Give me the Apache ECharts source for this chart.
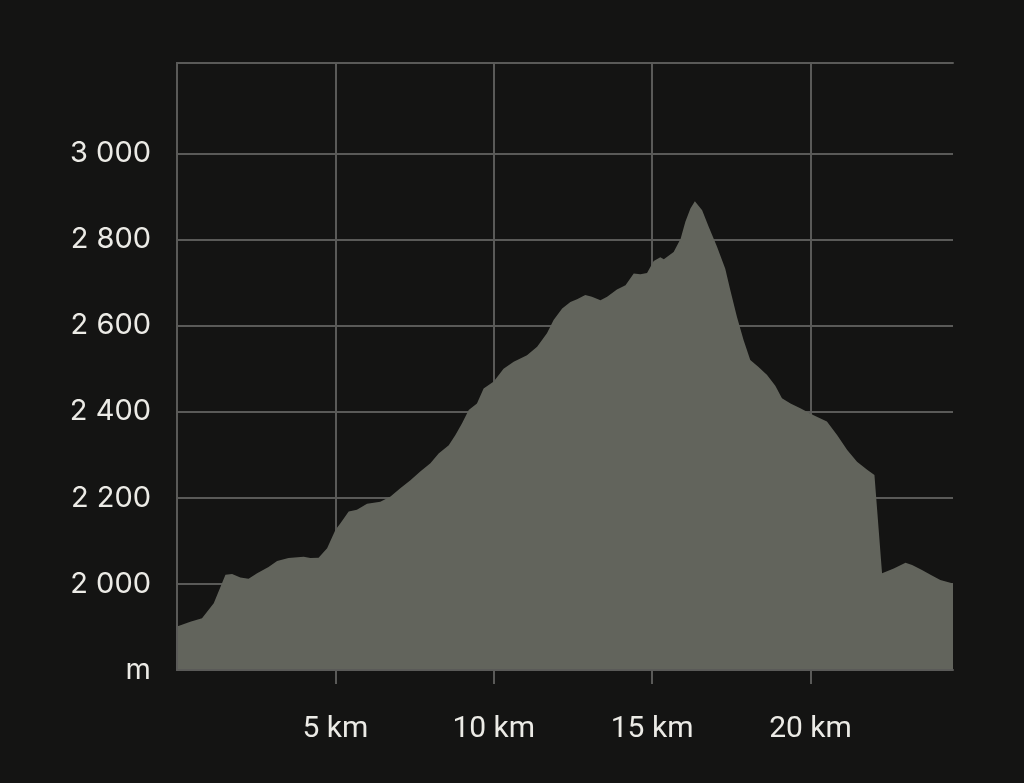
<!DOCTYPE html>
<html>
<head>
<meta charset="utf-8">
<script src="https://cdn.jsdelivr.net/npm/echarts@6/dist/echarts.min.js"></script>
<style>
html,body{margin:0;padding:0;background:#141413;}
#chart{width:1024px;height:783px;}
</style>
</head>
<body>
<div id="chart"></div>
<script>
// distance along route (km)
const distanceKm = [0,0.42,0.79,1.16,1.53,1.74,2.0,2.26,2.53,2.89,3.16,3.52,4.0,4.21,4.47,4.74,5.0,5.16,5.42,5.68,6.0,6.42,6.74,7.05,7.37,7.68,8.0,8.26,8.58,8.79,9.0,9.21,9.47,9.68,10.0,10.31,10.63,11.05,11.37,11.68,11.89,12.16,12.42,12.63,12.89,13.1,13.37,13.58,13.89,14.16,14.42,14.63,14.84,15.05,15.26,15.37,15.68,15.9,16.05,16.21,16.35,16.58,16.79,17.05,17.31,17.47,17.68,17.89,18.1,18.36,18.63,18.89,19.1,19.37,19.68,20.1,20.52,20.84,21.16,21.47,21.79,22.02,22.26,22.63,23.0,23.21,23.52,23.79,24.1,24.5];
// elevation (m)
const elevationM = [1901,1912,1920,1955,2021,2023,2015,2012,2025,2039,2053,2060,2063,2060,2061,2083,2125,2141,2168,2172,2186,2191,2203,2222,2241,2261,2280,2303,2322,2346,2373,2404,2419,2454,2470,2500,2516,2531,2551,2582,2613,2640,2655,2661,2671,2667,2659,2667,2684,2694,2721,2719,2722,2750,2759,2754,2771,2802,2841,2872,2889,2868,2829,2783,2732,2682,2620,2566,2520,2504,2485,2460,2431,2419,2408,2392,2377,2346,2311,2284,2265,2253,2025,2036,2049,2044,2032,2021,2009,2001];
const xTicks = [5,10,15,20];
const yTicks = [1800,2000,2200,2400,2600,2800,3000];
const xMin = 0, xMax = 24.5;
const yMin = 1800, yMax = 3210;

const lineCol = '#5a5a58';
const textCol = '#ecebe6';

const chart = echarts.init(document.getElementById('chart'));
const borderAxis = {show:true, lineStyle:{color:lineCol, width:2}};
chart.setOption({
  backgroundColor:'#141413',
  animation:false,
  grid:{left:177, right:71, top:63, bottom:113},
  xAxis:[{
    type:'value', min:xMin, max:xMax, position:'bottom',
    axisLine:{show:false},
    axisTick:{show:true, customValues:xTicks, length:14, lineStyle:{color:lineCol, width:2}},
    splitLine:{show:true, lineStyle:{color:lineCol, width:2}},
    axisLabel:{customValues:xTicks, margin:44, color:textCol, fontSize:30,
      fontFamily:'Roboto, sans-serif',
      formatter:v=>v+' km'}
  },{
    type:'value', min:xMin, max:xMax, position:'bottom', z:10,
    axisLine:borderAxis, axisTick:{show:false}, axisLabel:{show:false}, splitLine:{show:false}
  },{
    type:'value', min:xMin, max:xMax, position:'top', z:10,
    axisLine:borderAxis, axisTick:{show:false}, axisLabel:{show:false}, splitLine:{show:false}
  }],
  yAxis:[{
    type:'value', min:yMin, max:yMax, position:'left',
    axisLine:{show:false},
    axisTick:{show:false, customValues:yTicks},
    splitLine:{show:true, lineStyle:{color:lineCol, width:2}},
    axisLabel:{customValues:yTicks, margin:26, color:textCol, fontSize:29,
      fontFamily:'Inter, "Noto Sans", sans-serif',
      formatter:v=> v===1800 ? 'm' : String(v).replace(/\B(?=(\d{3})+(?!\d))/g,' ')}
  },{
    type:'value', min:yMin, max:yMax, position:'left', z:10,
    axisLine:borderAxis, axisTick:{show:false}, axisLabel:{show:false}, splitLine:{show:false}
  },{
    type:'value', min:yMin, max:yMax, position:'right', z:10,
    axisLine:borderAxis, axisTick:{show:false}, axisLabel:{show:false}, splitLine:{show:false}
  }],
  series:[{
    type:'line', xAxisIndex:0, yAxisIndex:0,
    data: distanceKm.map((d,i)=>[d, elevationM[i]]),
    showSymbol:false, symbol:'none',
    lineStyle:{width:0},
    areaStyle:{color:'#62645c', opacity:1, origin:'start'}
  }]
});
</script>
</body>
</html>
